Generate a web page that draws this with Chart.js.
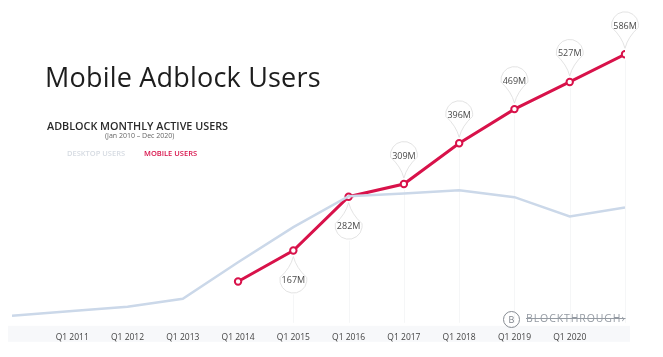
<!DOCTYPE html>
<html>
<head>
<meta charset="utf-8">
<script src="https://cdn.jsdelivr.net/npm/chart.js@4"></script>
<style>
  html, body { margin: 0; padding: 0; background: #fff; }
  #wrap { position: relative; width: 663px; height: 357px; }
  canvas { display: block; }
  .t { position: absolute; font-family: "Open Sans", Lato, sans-serif; white-space: nowrap; }
</style>
</head>
<body>
<div id="wrap">
  <canvas id="c" width="663" height="357"></canvas>
  <div class="t" style="left:45px;top:58px;font-size:27px;color:#1d1d1d;letter-spacing:0.2px;">Mobile Adblock Users</div>
  <div class="t" style="left:47px;top:118px;font-size:10.8px;font-weight:600;color:#2a2a2a;letter-spacing:0px;">ADBLOCK MONTHLY ACTIVE USERS</div>
  <div class="t" style="left:105px;top:131px;font-size:7px;color:#666;">(Jan 2010 – Dec 2020)</div>
  <div class="t" style="left:67px;top:148px;font-size:7.5px;font-weight:600;color:#d6dbe2;">DESKTOP USERS</div>
  <div class="t" style="left:144px;top:148px;font-size:7.5px;font-weight:600;color:#d8114a;">MOBILE USERS</div>
  <div class="t" style="left:503px;top:311px;width:17px;height:17px;border:1px solid #868b92;border-radius:50%;box-sizing:border-box;font-size:9px;color:#7d828a;text-align:center;line-height:15px;">B</div>
  <div class="t" style="left:526px;top:311px;font-size:10.5px;color:#959ba3;letter-spacing:0.9px;text-decoration:line-through;">BLOCKTHROUGH›</div>
</div>
<script>
const tickYears = [2011, 2012, 2013, 2014, 2015, 2016, 2017, 2018, 2019, 2020];
const tickLabels = ['Q1 2011', 'Q1 2012', 'Q1 2013', 'Q1 2014', 'Q1 2015', 'Q1 2016', 'Q1 2017', 'Q1 2018', 'Q1 2019', 'Q1 2020'];
const desktopYears = [2009.91, 2011, 2012, 2013, 2014, 2015, 2016, 2017, 2018, 2019, 2020, 2021];
const desktopUsers = [28, 38, 47, 64, 142, 217, 283, 289, 296, 281, 240, 259];
const mobileYears = [2014, 2015, 2016, 2017, 2018, 2019, 2020, 2021];
const mobileUsers = [101, 167, 282, 309, 396, 469, 527, 586];
const mobileLabels = [null, '167M', '282M', '309M', '396M', '469M', '527M', '586M'];
const labelBelow = [false, true, true, false, false, false, false, false];

const pinPlugin = {
  id: 'pins',
  beforeDraw(chart) {
    const ctx = chart.ctx;
    const area = chart.chartArea;
    ctx.save();
    ctx.fillStyle = '#f7f8fa';
    ctx.fillRect(8, area.bottom - 3, 622, 16);
    ctx.restore();
  },
  beforeDatasetsDraw(chart) {
    const ctx = chart.ctx;
    const area = chart.chartArea;
    const meta = chart.getDatasetMeta(1);
    ctx.save();
    ctx.strokeStyle = '#f5f6f7';
    ctx.lineWidth = 1;
    meta.data.forEach((pt, i) => {
      if (!mobileLabels[i]) return;
      ctx.beginPath();
      ctx.moveTo(Math.round(pt.x) + 0.5, pt.y + (labelBelow[i] ? 44 : 6));
      ctx.lineTo(Math.round(pt.x) + 0.5, area.bottom - 6);
      ctx.stroke();
    });
    ctx.restore();
  },
  afterDatasetsDraw(chart) {
    const ctx = chart.ctx;
    const meta = chart.getDatasetMeta(1);
    ctx.save();
    meta.data.forEach((pt, i) => {
      const lab = mobileLabels[i];
      if (!lab) return;
      const dir = labelBelow[i] ? 1 : -1;
      const r = 13.5;
      const cx = pt.x, cy = pt.y + dir * 29;
      const tipY = pt.y + dir * 6;
      const a = 0.45;
      ctx.beginPath();
      if (dir < 0) {
        ctx.moveTo(cx, tipY);
        ctx.quadraticCurveTo(cx - 3, cy + r - 2, cx - r * Math.sin(Math.PI * a), cy + r * Math.cos(Math.PI * a));
        ctx.arc(cx, cy, r, Math.PI / 2 + Math.PI * a, Math.PI / 2 - Math.PI * a + 2 * Math.PI);
        ctx.quadraticCurveTo(cx + 3, cy + r - 2, cx, tipY);
      } else {
        ctx.moveTo(cx, tipY);
        ctx.quadraticCurveTo(cx - 3, cy - r + 2, cx - r * Math.sin(Math.PI * a), cy - r * Math.cos(Math.PI * a));
        ctx.arc(cx, cy, r, -Math.PI / 2 - Math.PI * a, -Math.PI / 2 + Math.PI * a, true);
        ctx.quadraticCurveTo(cx + 3, cy - r + 2, cx, tipY);
      }
      ctx.closePath();
      ctx.fillStyle = 'rgba(255,255,255,0.92)';
      ctx.fill();
      ctx.strokeStyle = '#dcdcdc';
      ctx.lineWidth = 0.8;
      ctx.stroke();
      ctx.fillStyle = '#4a4a4a';
      ctx.font = '9px "Open Sans", sans-serif';
      ctx.textAlign = 'center';
      ctx.textBaseline = 'middle';
      ctx.fillText(lab, cx, cy + 1);
    });
    ctx.restore();
  }
};

new Chart(document.getElementById('c'), {
  type: 'line',
  data: {
    datasets: [
      {
        label: 'Desktop users',
        data: desktopYears.map((x, i) => ({ x, y: desktopUsers[i] })),
        borderColor: '#cbd8e9',
        borderWidth: 2.5,
        pointRadius: 0,
        tension: 0,
        fill: false
      },
      {
        label: 'Mobile users',
        data: mobileYears.map((x, i) => ({ x, y: mobileUsers[i] })),
        borderColor: '#d8124a',
        borderWidth: 3,
        pointRadius: 3.2,
        pointBorderWidth: 2,
        pointBackgroundColor: '#ffffff',
        pointBorderColor: '#d8124a',
        tension: 0,
        fill: false
      }
    ]
  },
  options: {
    responsive: false,
    animation: false,
    layout: { padding: { left: 12, right: 38, top: 29, bottom: 10 } },
    plugins: { legend: { display: false }, tooltip: { enabled: false } },
    scales: {
      x: {
        type: 'linear',
        min: 2009.91,
        max: 2021,
        afterBuildTicks(scale) {
          scale.ticks = tickYears.map(v => ({ value: v }));
        },
        grid: { display: false, drawTicks: false },
        border: { display: false },
        ticks: {
          autoSkip: false, maxRotation: 0, padding: 4,
          color: '#444', font: { family: '"Open Sans", sans-serif', size: 8.5 },
          callback(value) {
            const i = tickYears.indexOf(value);
            return i >= 0 ? tickLabels[i] : '';
          }
        }
      },
      y: {
        display: false,
        min: 0,
        max: 640
      }
    }
  },
  plugins: [pinPlugin]
});
</script>
</body>
</html>
